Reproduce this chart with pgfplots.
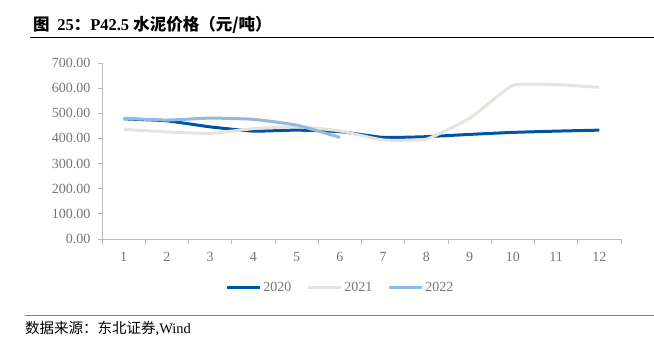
\documentclass[border=0pt]{standalone}
\usepackage{fontspec}
\setmainfont{Liberation Serif}
\newfontfamily\cjk{Noto Sans CJK SC}
\usepackage{pgfplots}
\pgfplotsset{compat=1.18}
\definecolor{c20}{RGB}{0,84,166}
\definecolor{c21}{RGB}{230,227,221}
\definecolor{c22}{RGB}{149,184,224}
\definecolor{tickgray}{RGB}{118,118,118}
\definecolor{axgray}{RGB}{185,185,185}
\begin{document}
\begin{tikzpicture}[x=1pt,y=1pt]
\path[use as bounding box] (0,0) rectangle (654,342);
\node[anchor=base west, inner sep=0] at (33,311) {\fontsize{16.5}{16.5}\selectfont\cjk\bfseries 图\ \ \rmfamily\bfseries 25\cjk ：\rmfamily\bfseries P42.5 \cjk\bfseries 水泥价格（元/吨）};
\draw[line width=1] (30,304) -- (654,304);
\begin{axis}[at={(102pt,103pt)}, anchor=south west, scale only axis,
  width=519pt, height=176pt,
  xmin=0.5, xmax=12.5, ymin=0, ymax=700,
  axis x line=bottom, axis y line=left,
  axis line style={-, draw=axgray, line width=0.8pt},
  xtick={1,...,12}, ytick={0,100,...,700},
  minor xtick={0.5,1.5,...,12.5},
  tick align=outside, major tick length=4pt, minor tick length=5pt,
  major x tick style={draw=none},
  minor x tick style={draw=axgray, line width=0.8pt},
  ytick style={draw=axgray, line width=0.8pt},
  tick label style={font=\fontsize{14}{14}\selectfont, text=tickgray},
  /pgf/number format/assume math mode=true,
  yticklabel style={xshift=-4pt, /pgf/number format/fixed, /pgf/number format/fixed zerofill, /pgf/number format/precision=2},
  xticklabel style={yshift=-6pt},
  legend columns=3,
  legend style={at={(0.4595,-0.278)}, anchor=center, draw=none, fill=none,
    font=\fontsize{14}{14}\selectfont, text=tickgray,
    /tikz/every even column/.append style={column sep=13pt},
    /tikz/every odd column/.append style={column sep=0pt}},
  legend image code/.code={\draw[#1] (0pt,0pt) -- (33pt,0pt);},
  every axis plot/.append style={line width=3pt, smooth, tension=0.25},
]
\addplot[c20] coordinates {(1,478) (2,470) (3,446) (4,429) (5,433) (6,427) (7,404) (8,407) (9,416) (10,424) (11,429) (12,433)};
\addlegendentry{2020}
\addplot[c21] coordinates {(1,436) (2,426) (3,420) (4,439) (5,447) (6,430) (7,394) (8,397) (9,480) (10,611) (11,614) (12,603)};
\addlegendentry{2021}
\addplot[c22] coordinates {(1,480) (2,473) (3,481) (4,476) (5,453) (6,404)};
\addlegendentry{2022}
\end{axis}
\draw[gray, line width=1] (25,26) -- (654,26);
\node[anchor=base west, inner sep=0] at (25,8) {\fontsize{14.5}{14.5}\selectfont\cjk 数据来源：东北证券\rmfamily ,Wind};
\end{tikzpicture}
\end{document}
